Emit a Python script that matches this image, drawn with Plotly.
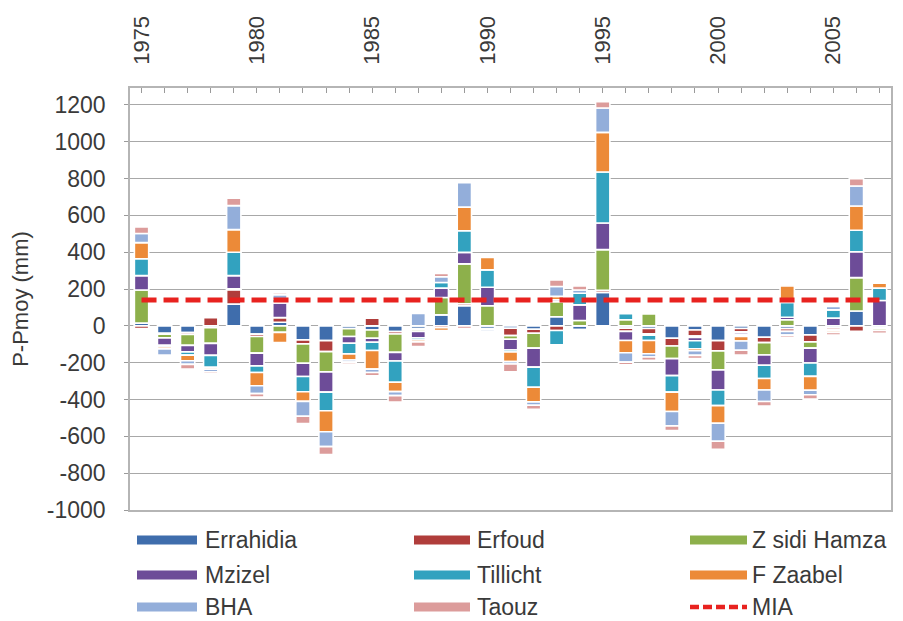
import plotly.graph_objects as go

# Years on the category axis
years = list(range(1975, 2008))
tick_labels = [str(y) if y % 5 == 0 else "" for y in years]
y_ticks = list(range(-1000, 1201, 200))
y_tick_labels = [str(v) for v in y_ticks]  # plain hyphen, as in the original

# P - Pmoy (mm) for each station
errahidia = [15, -40, -36, -10, 118, -45, 20, -76, -80, -15, -22, -31, -15, 60, 109, -15, -13,
             -18, 50, -20, 181, -12, -14, -67, -22, -80, -14, -62, -15, -49, -10, 81, -10]
erfoud = [-15, -5, -10, 45, 78, -13, 25, -22, -60, 8, 42, -13, -5, -10, 11, -5, -40,
          -22, -25, -5, 12, -18, -29, -42, -33, -56, -18, -29, -15, -38, -10, -30, -5]
z_sidi_hamza = [180, -20, -60, -85, 5, -90, -35, -105, -110, -43, -45, -100, -10, 94, 217, 109, -20,
                -81, 82, 29, 221, 33, 65, -69, -8, -103, -7, -67, 33, -34, -5, 181, -10]
mzizel = [78, -40, -35, -65, 72, -69, 80, -72, -110, -36, -22, -47, -35, 51, 62, 101, -58,
          -103, 10, 85, 145, -49, -7, -92, -18, -109, -10, -56, 14, -81, 42, 141, 138]
tillicht = [92, -10, -18, -65, 127, -36, 20, -83, -101, -58, -45, -115, -12, 31, 118, 94, -11,
            -109, -78, 63, 277, 33, -29, -90, -43, -85, -8, -72, 80, -72, 45, 116, 67]
f_zaabel = [87, -10, -30, -10, 123, -72, -55, -52, -114, -33, -101, -51, -10, -15, 128, 67, -52,
            -80, 18, -5, 215, -67, -72, -105, -11, -96, -25, -62, 90, -76, -10, 132, 27]
bha = [50, -35, -20, -15, 130, -43, 25, -81, -81, -12, -18, -22, 68, 31, 132, -10, -13,
       -18, 54, 18, 132, -51, -18, -78, -25, -98, -50, -63, -20, -24, 18, 109, 8]
taouz = [36, -8, -25, -10, 40, -18, 10, -40, -43, -10, -18, -35, -25, 18, -15, -5, -42,
         -22, 36, 22, 34, -14, -18, -25, -18, -43, -26, -24, -12, -24, -15, 40, -15]

mia = 140  # mean interannual level (dashed line)

stations = [
    ("Errahidia", errahidia, "#3F6DAC"),
    ("Erfoud", erfoud, "#B03D3B"),
    ("Z sidi Hamza", z_sidi_hamza, "#8DB04B"),
    ("Mzizel", mzizel, "#6D4C98"),
    ("Tillicht", tillicht, "#32A2BF"),
    ("F Zaabel", f_zaabel, "#EC8A38"),
    ("BHA", bha, "#93AEDA"),
    ("Taouz", taouz, "#DC9C9B"),
]
mia_color = "#E8221F"
text_color = "#3a3a3a"
font_family = "Liberation Sans, Arial, sans-serif"

fig = go.Figure()
for name, values, color in stations:
    fig.add_trace(go.Bar(
        x=years, y=values, name=name, width=0.62,
        marker=dict(color=color, line=dict(color="white", width=1.6)),
        showlegend=False,
    ))

fig.add_trace(go.Scatter(
    x=years, y=[mia] * len(years), mode="lines", name="MIA",
    line=dict(color=mia_color, width=5, dash="15px,7px"),
    showlegend=False,
))

# the page body adds an 8px offset, so the figure is sized to fit the window
OFF = 8
W, H = 903 - OFF, 621 - OFF
# plot area in window pixels
L, R, T, B = 130, 891, 88, 510


def px(x):
    return (x - L) / (R - L)


def py(y):
    return (B - y) / (B - T)


# hand-made legend: wide colour bars, three columns
shapes = []
annotations = []
legend_cols = [(137, 197, 203), (414, 470, 475), (690, 747, 750)]
legend_rows = [540, 575, 607]
entries = [(n, c) for n, _, c in stations] + [("MIA", None)]
for i, (name, color) in enumerate(entries):
    row, col = divmod(i, 3)
    x0, x1, xt = legend_cols[col]
    yc = legend_rows[row]
    if color is None:
        shapes.append(dict(type="line", xref="paper", yref="paper",
                           x0=px(x0), x1=px(x1), y0=py(yc), y1=py(yc),
                           line=dict(color=mia_color, width=4.5, dash="9px,4px")))
    else:
        shapes.append(dict(type="rect", xref="paper", yref="paper",
                           x0=px(x0), x1=px(x1), y0=py(yc - 4.5), y1=py(yc + 4.5),
                           line=dict(width=0), fillcolor=color))
    annotations.append(dict(text=name, xref="paper", yref="paper", x=px(xt), y=py(yc),
                            xanchor="left", yanchor="middle", showarrow=False,
                            font=dict(size=23, color=text_color, family=font_family)))

fig.update_layout(
    width=W, height=H,
    margin=dict(l=L - OFF, r=903 - R, t=T - OFF, b=621 - B, autoexpand=False),
    barmode="relative",
    plot_bgcolor="white", paper_bgcolor="white",
    font=dict(family=font_family, color=text_color),
    showlegend=False,
    shapes=shapes,
    annotations=annotations,
    xaxis=dict(
        side="top", range=[1974.5, 2007.5], automargin=False,
        tickvals=years, ticktext=tick_labels, tickangle=-90,
        ticks="inside", ticklen=5, tickcolor="#9a9a9a",
        ticklabelstandoff=17,
        tickfont=dict(size=22, color=text_color),
        showline=True, mirror=True, linecolor="#b5b5b5", linewidth=1.5,
        showgrid=False, zeroline=False,
    ),
    yaxis=dict(
        range=[-1000, 1292], automargin=False,
        tickvals=y_ticks, ticktext=y_tick_labels,
        ticks="outside", ticklen=4, tickcolor="#9a9a9a",
        ticklabelstandoff=14,
        tickfont=dict(size=23, color=text_color),
        title=dict(text="P-Pmoy (mm)", font=dict(size=22, color=text_color), standoff=14),
        showline=True, mirror=True, linecolor="#b5b5b5", linewidth=1.5,
        showgrid=True, gridcolor="#a8a8a8", gridwidth=1.3, zeroline=False,
    ),
)

fig.write_html("out.html")
